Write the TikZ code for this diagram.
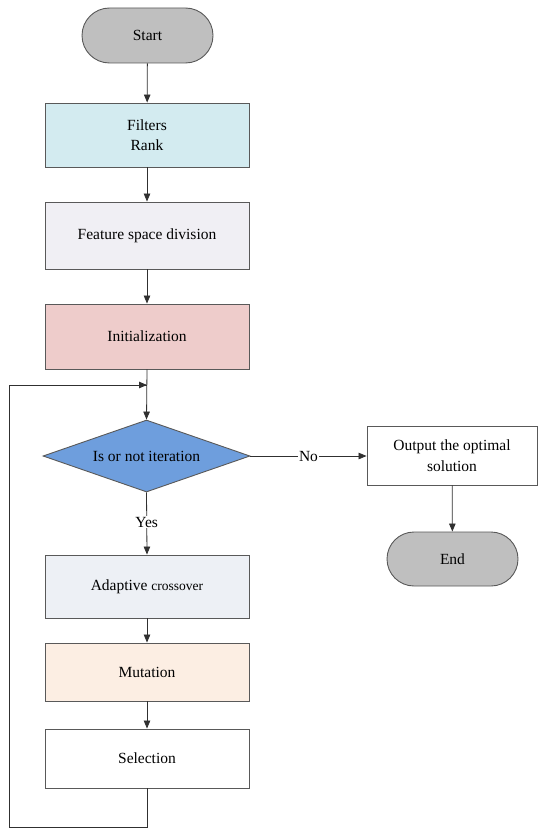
\documentclass[tikz,border=0pt]{standalone}
\usepackage{fontspec}
\setmainfont{Liberation Serif}
\newfontfamily\tnrfont{Liberation Serif}
\usetikzlibrary{shapes.geometric,shapes.misc,arrows.meta}
\definecolor{termfill}{HTML}{BFBFBF}
\definecolor{edgegray}{HTML}{595959}
\definecolor{filtfill}{HTML}{D3EBF0}
\definecolor{featfill}{HTML}{F0EFF4}
\definecolor{initfill}{HTML}{EECCCB}
\definecolor{diamfill}{HTML}{6E9EDD}
\definecolor{adapfill}{HTML}{EDF0F5}
\definecolor{mutfill}{HTML}{FCEEE3}
\definecolor{linecol}{HTML}{303030}
\tikzset{
  x=1pt,y=1pt,
  every node/.style={font=\tnrfont\fontsize{15.5}{20.5}\selectfont, text=black},
  procbox/.style={draw=edgegray, line width=0.9pt, rectangle, minimum width=204pt, inner sep=0pt, align=center},
  termbox/.style={draw=edgegray, line width=0.9pt, fill=termfill, rounded rectangle, minimum width=131pt, minimum height=55pt, inner sep=0pt},
  decbox/.style={draw=edgegray, line width=0.9pt, fill=diamfill, diamond, aspect=2.875, minimum width=207pt, minimum height=72pt, inner sep=0pt},
  conn/.style={draw=linecol, line width=0.8pt, -{Triangle[width=6.5pt,length=8pt]}},
  plainconn/.style={draw=linecol, line width=0.8pt},
  lbl/.style={fill=white, inner sep=1pt}
}
\begin{document}
\begin{tikzpicture}
\useasboundingbox (0,0) rectangle (550,-840);
\node[termbox] (start) at (147.5,-35.5) {Start};
\node[procbox, fill=filtfill, minimum height=64pt] (filt) at (147,-135) {Filters\\Rank};
\node[procbox, fill=featfill, minimum height=67pt] (feat) at (147,-235.5) {Feature space division};
\node[procbox, fill=initfill, minimum height=65pt] (init) at (147,-336.5) {Initialization};
\node[decbox] (dec) at (146.5,-456) {Is or not iteration};
\node[procbox, fill=adapfill, minimum height=63pt] (adap) at (147,-586.5) {Adaptive {\fontsize{13.5}{16}\selectfont crossover}};
\node[procbox, fill=mutfill, minimum height=58pt] (mut) at (147,-672) {Mutation};
\node[procbox, fill=white, minimum height=59pt] (sel) at (147,-758.5) {Selection};
\node[procbox, fill=white, minimum width=170pt, minimum height=59pt] (out) at (452,-455.5) {Output the optimal\\solution};
\node[termbox, minimum width=131pt, minimum height=54pt] (end) at (452.5,-559) {End};
\coordinate (loopin) at (147,-385);
\coordinate (bl) at (9,-827);
\coordinate (tl) at (9,-385);
\coordinate (selb) at (147,-827);

\draw[conn] (start) -- (filt);
\draw[conn] (filt) -- (feat);
\draw[conn] (feat) -- (init);
\draw[conn] (init.south) -- (dec.north);
\draw[conn] (dec.south) -- node[lbl, pos=0.48] {Yes} (adap.north);
\draw[conn] (dec.east) -- node[lbl, pos=0.5] {No} (out.west |- dec.east);
\draw[conn] (out) -- (end);
\draw[conn] (adap) -- (mut);
\draw[conn] (mut) -- (sel);
\draw[plainconn] (sel.south) -- (selb) -- (bl) -- (tl) -- ([xshift=-0.4pt]loopin);
\draw[conn] (tl) -- (loopin);
\end{tikzpicture}
\end{document}
